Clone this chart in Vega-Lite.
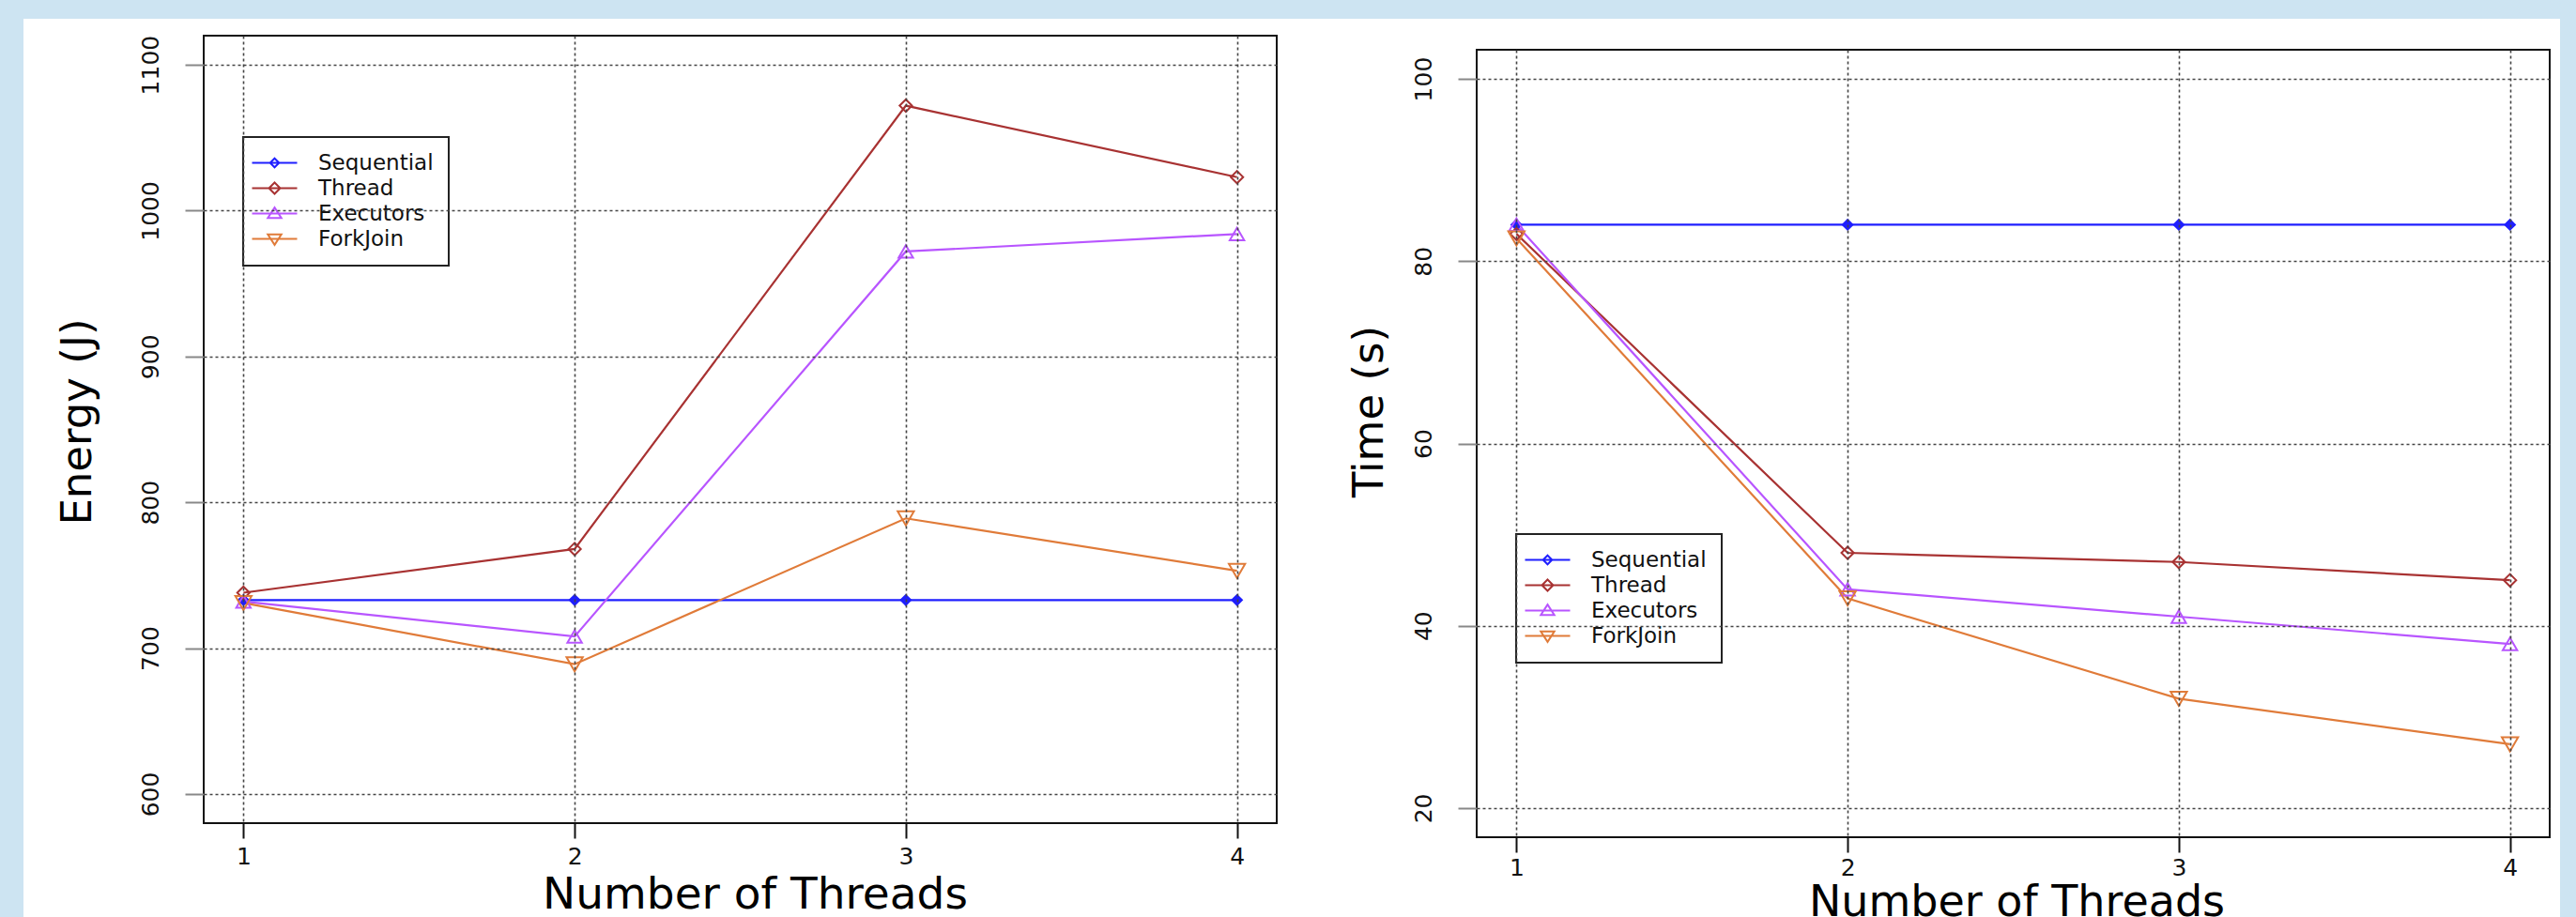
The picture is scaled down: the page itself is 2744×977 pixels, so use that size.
{
  "$schema": "https://vega.github.io/schema/vega-lite/v6.json",
  "background": "#cde4f2",
  "padding": {"left": 25, "top": 20, "right": 17, "bottom": 0},
  "spacing": 213,
  "bounds": "flush",
  "datasets": {
    "energy": [
      {"threads": 1, "series": "Sequential", "value": 733},
      {"threads": 2, "series": "Sequential", "value": 733},
      {"threads": 3, "series": "Sequential", "value": 733},
      {"threads": 4, "series": "Sequential", "value": 733},
      {"threads": 1, "series": "Thread", "value": 738},
      {"threads": 2, "series": "Thread", "value": 768},
      {"threads": 3, "series": "Thread", "value": 1072},
      {"threads": 4, "series": "Thread", "value": 1023},
      {"threads": 1, "series": "Executors", "value": 732},
      {"threads": 2, "series": "Executors", "value": 708},
      {"threads": 3, "series": "Executors", "value": 972},
      {"threads": 4, "series": "Executors", "value": 984},
      {"threads": 1, "series": "ForkJoin", "value": 731},
      {"threads": 2, "series": "ForkJoin", "value": 689},
      {"threads": 3, "series": "ForkJoin", "value": 789},
      {"threads": 4, "series": "ForkJoin", "value": 753}
    ],
    "time": [
      {"threads": 1, "series": "Sequential", "value": 84},
      {"threads": 2, "series": "Sequential", "value": 84},
      {"threads": 3, "series": "Sequential", "value": 84},
      {"threads": 4, "series": "Sequential", "value": 84},
      {"threads": 1, "series": "Thread", "value": 83},
      {"threads": 2, "series": "Thread", "value": 48},
      {"threads": 3, "series": "Thread", "value": 47},
      {"threads": 4, "series": "Thread", "value": 45},
      {"threads": 1, "series": "Executors", "value": 84},
      {"threads": 2, "series": "Executors", "value": 44},
      {"threads": 3, "series": "Executors", "value": 41},
      {"threads": 4, "series": "Executors", "value": 38},
      {"threads": 1, "series": "ForkJoin", "value": 82.5},
      {"threads": 2, "series": "ForkJoin", "value": 43},
      {"threads": 3, "series": "ForkJoin", "value": 32},
      {"threads": 4, "series": "ForkJoin", "value": 27}
    ]
  },
  "hconcat": [
    {
      "width": 1143,
      "height": 839,
      "data": {"name": "energy"},
      "layer": [
        {
          "data": {"values": [{}]},
          "mark": {"type": "rect", "fill": "white"},
          "encoding": {
            "x": {"datum": 0.33575, "type": "quantitative", "scale": {"domain": [0.88, 4.12], "nice": false, "zero": false}},
            "x2": {"datum": 4.42047},
            "y": {"datum": 1131.585, "type": "quantitative", "scale": {"domain": [580, 1120], "nice": false, "zero": false}},
            "y2": {"datum": 515.638}
          }
        },
        {
          "mark": {"type": "line", "strokeWidth": 2.2},
          "encoding": {
            "x": {
              "field": "threads", "type": "quantitative",
              "scale": {"domain": [0.88, 4.12], "nice": false, "zero": false},
              "axis": {
                "zindex": 1,
                "title": "Number of Threads", "values": [1, 1.5, 2, 2.5, 3, 3.5, 4], "format": "d",
                "labelExpr": "datum.value % 1 == 0 ? datum.label : ''",
                "tickSize": 16,
                "tickColor": {"condition": {"test": "datum.value % 1 != 0", "value": "transparent"}, "value": "#111"},
                "labelFontSize": 25, "labelPadding": 7,
                "titleFontSize": 47, "titleX": 587, "titleY": 90, "titleBaseline": "alphabetic", "titleAlign": "center",
                "grid": true
              }
            },
            "y": {
              "field": "value", "type": "quantitative",
              "scale": {"domain": [580, 1120], "nice": false, "zero": false},
              "axis": {
                "zindex": 1,
                "title": "Energy (J)", "values": [600, 700, 800, 900, 1000, 1100], "format": "d",
                "tickSize": 20, "labelAngle": -90, "labelAlign": "center", "labelBaseline": "bottom",
                "labelPadding": 24, "labelFontSize": 25,
                "titleFontSize": 45, "titleAngle": -90, "titleX": -121, "titleY": 411, "titleBaseline": "alphabetic", "titleAlign": "center",
                "grid": true
              }
            },
            "stroke": {"field": "series", "type": "nominal", "scale": {"domain": ["Sequential", "Thread", "Executors", "ForkJoin"], "range": ["#1f1fff", "#a83232", "#b855ff", "#e07b39"]}, "legend": null}
          }
        },
        {
          "mark": {"type": "point", "opacity": 1, "strokeWidth": 2},
          "encoding": {
            "x": {"field": "threads", "type": "quantitative", "scale": {"domain": [0.88, 4.12], "nice": false, "zero": false}},
            "y": {"field": "value", "type": "quantitative", "scale": {"domain": [580, 1120], "nice": false, "zero": false}},
            "stroke": {"field": "series", "type": "nominal", "scale": {"domain": ["Sequential", "Thread", "Executors", "ForkJoin"], "range": ["#1f1fff", "#a83232", "#b855ff", "#e07b39"]}, "legend": null},
            "fill": {"field": "series", "type": "nominal", "scale": {"domain": ["Sequential", "Thread", "Executors", "ForkJoin"], "range": ["#1f1fff", "transparent", "transparent", "transparent"]}, "legend": null},
            "shape": {"field": "series", "type": "nominal", "scale": {"domain": ["Sequential", "Thread", "Executors", "ForkJoin"], "range": ["diamond", "diamond", "triangle-up", "triangle-down"]}, "legend": null},
            "size": {"field": "series", "type": "nominal", "scale": {"domain": ["Sequential", "Thread", "Executors", "ForkJoin"], "range": [110, 300, 300, 300]}, "legend": null}
          }
        },
        {
          "mark": {"type": "point", "opacity": 0, "strokeWidth": 2},
          "encoding": {
            "x": {"field": "threads", "type": "quantitative", "scale": {"domain": [0.88, 4.12], "nice": false, "zero": false}},
            "y": {"field": "value", "type": "quantitative", "scale": {"domain": [580, 1120], "nice": false, "zero": false}},
            "stroke": {
              "field": "series", "type": "nominal",
              "scale": {"domain": ["Sequential", "Thread", "Executors", "ForkJoin"], "range": ["#1f1fff", "#a83232", "#b855ff", "#e07b39"]},
              "legend": {"title": null, "orient": "none", "legendX": 42, "legendY": 108}
            },
            "fill": {"field": "series", "type": "nominal", "scale": {"domain": ["Sequential", "Thread", "Executors", "ForkJoin"], "range": ["#1f1fff", "transparent", "transparent", "transparent"]}},
            "shape": {
              "field": "series", "type": "nominal",
              "scale": {"domain": ["Sequential", "Thread", "Executors", "ForkJoin"], "range": [
                "M-3,0H3M0,-0.6L0.6,0L0,0.6L-0.6,0Z",
                "M-3,0H3M0,-0.75L0.75,0L0,0.75L-0.75,0Z",
                "M-3,0H3M0,-0.8L0.9,0.6L-0.9,0.6Z",
                "M-3,0H3M0,0.8L0.9,-0.6L-0.9,-0.6Z"
              ]}
            }
          }
        },
        {
          "data": {"values": [{}]},
          "mark": {"type": "rect", "fill": "transparent", "stroke": "#111", "strokeWidth": 2},
          "encoding": {
            "x": {"datum": 0.88, "type": "quantitative", "scale": {"domain": [0.88, 4.12], "nice": false, "zero": false}},
            "x2": {"datum": 4.12},
            "y": {"datum": 580, "type": "quantitative", "scale": {"domain": [580, 1120], "nice": false, "zero": false}},
            "y2": {"datum": 1120}
          }
        }
      ],
      "resolve": {"scale": {"stroke": "independent", "fill": "independent", "shape": "independent", "size": "independent"}}
    },
    {
      "spacing": 14,
      "bounds": "flush",
      "vconcat": [
        {
          "width": 1143,
          "height": 1,
          "data": {"values": []},
          "mark": {"type": "point"},
          "encoding": {}
        },
        {
          "width": 1143,
          "height": 839,
          "data": {"name": "time"},
          "layer": [
            {
              "data": {"values": [{}]},
              "mark": {"type": "rect", "fill": "white"},
              "encoding": {
                "x": {"datum": 0.57669, "type": "quantitative", "scale": {"domain": [0.88, 4.12], "nice": false, "zero": false}},
                "x2": {"datum": 4.15118},
                "y": {"datum": 106.59833, "type": "quantitative", "scale": {"domain": [16.8, 103.2], "nice": false, "zero": false}},
                "y2": {"datum": 8.04671}
              }
            },
            {
              "mark": {"type": "line", "strokeWidth": 2.2},
              "encoding": {
                "x": {
                  "field": "threads", "type": "quantitative",
                  "scale": {"domain": [0.88, 4.12], "nice": false, "zero": false},
                  "axis": {
                    "zindex": 1,
                    "title": "Number of Threads", "values": [1, 1.5, 2, 2.5, 3, 3.5, 4], "format": "d",
                    "labelExpr": "datum.value % 1 == 0 ? datum.label : ''",
                    "tickSize": 16,
                    "tickColor": {"condition": {"test": "datum.value % 1 != 0", "value": "transparent"}, "value": "#111"},
                    "labelFontSize": 25, "labelPadding": 4,
                    "titleFontSize": 46, "titleX": 575, "titleY": 83, "titleBaseline": "alphabetic", "titleAlign": "center",
                    "grid": true
                  }
                },
                "y": {
                  "field": "value", "type": "quantitative",
                  "scale": {"domain": [16.8, 103.2], "nice": false, "zero": false},
                  "axis": {
                    "zindex": 1,
                    "title": "Time (s)", "values": [20, 40, 60, 80, 100], "format": "d",
                    "tickSize": 20, "labelAngle": -90, "labelAlign": "center", "labelBaseline": "bottom",
                    "labelPadding": 24, "labelFontSize": 25,
                    "titleFontSize": 45, "titleAngle": -90, "titleX": -101, "titleY": 385, "titleBaseline": "alphabetic", "titleAlign": "center",
                    "grid": true
                  }
                },
                "stroke": {"field": "series", "type": "nominal", "scale": {"domain": ["Sequential", "Thread", "Executors", "ForkJoin"], "range": ["#1f1fff", "#a83232", "#b855ff", "#e07b39"]}, "legend": null}
              }
            },
            {
              "mark": {"type": "point", "opacity": 1, "strokeWidth": 2},
              "encoding": {
                "x": {"field": "threads", "type": "quantitative", "scale": {"domain": [0.88, 4.12], "nice": false, "zero": false}},
                "y": {"field": "value", "type": "quantitative", "scale": {"domain": [16.8, 103.2], "nice": false, "zero": false}},
                "stroke": {"field": "series", "type": "nominal", "scale": {"domain": ["Sequential", "Thread", "Executors", "ForkJoin"], "range": ["#1f1fff", "#a83232", "#b855ff", "#e07b39"]}, "legend": null},
                "fill": {"field": "series", "type": "nominal", "scale": {"domain": ["Sequential", "Thread", "Executors", "ForkJoin"], "range": ["#1f1fff", "transparent", "transparent", "transparent"]}, "legend": null},
                "shape": {"field": "series", "type": "nominal", "scale": {"domain": ["Sequential", "Thread", "Executors", "ForkJoin"], "range": ["diamond", "diamond", "triangle-up", "triangle-down"]}, "legend": null},
                "size": {"field": "series", "type": "nominal", "scale": {"domain": ["Sequential", "Thread", "Executors", "ForkJoin"], "range": [110, 300, 300, 300]}, "legend": null}
              }
            },
            {
              "mark": {"type": "point", "opacity": 0, "strokeWidth": 2},
              "encoding": {
                "x": {"field": "threads", "type": "quantitative", "scale": {"domain": [0.88, 4.12], "nice": false, "zero": false}},
                "y": {"field": "value", "type": "quantitative", "scale": {"domain": [16.8, 103.2], "nice": false, "zero": false}},
                "stroke": {
                  "field": "series", "type": "nominal",
                  "scale": {"domain": ["Sequential", "Thread", "Executors", "ForkJoin"], "range": ["#1f1fff", "#a83232", "#b855ff", "#e07b39"]},
                  "legend": {"title": null, "orient": "none", "legendX": 42, "legendY": 516}
                },
                "fill": {"field": "series", "type": "nominal", "scale": {"domain": ["Sequential", "Thread", "Executors", "ForkJoin"], "range": ["#1f1fff", "transparent", "transparent", "transparent"]}},
                "shape": {
                  "field": "series", "type": "nominal",
                  "scale": {"domain": ["Sequential", "Thread", "Executors", "ForkJoin"], "range": [
                    "M-3,0H3M0,-0.6L0.6,0L0,0.6L-0.6,0Z",
                    "M-3,0H3M0,-0.75L0.75,0L0,0.75L-0.75,0Z",
                    "M-3,0H3M0,-0.8L0.9,0.6L-0.9,0.6Z",
                    "M-3,0H3M0,0.8L0.9,-0.6L-0.9,-0.6Z"
                  ]}
                }
              }
            },
            {
              "data": {"values": [{}]},
              "mark": {"type": "rect", "fill": "transparent", "stroke": "#111", "strokeWidth": 2},
              "encoding": {
                "x": {"datum": 0.88, "type": "quantitative", "scale": {"domain": [0.88, 4.12], "nice": false, "zero": false}},
                "x2": {"datum": 4.12},
                "y": {"datum": 16.8, "type": "quantitative", "scale": {"domain": [16.8, 103.2], "nice": false, "zero": false}},
                "y2": {"datum": 103.2}
              }
            }
          ],
          "resolve": {"scale": {"stroke": "independent", "fill": "independent", "shape": "independent", "size": "independent"}}
        }
      ]
    }
  ],
  "config": {
    "view": {"stroke": null},
    "axis": {
      "domain": false,
      "gridColor": "#444", "gridDash": [3, 3], "gridWidth": 1.6, "gridOpacity": 1,
      "tickWidth": 2, "labelFont": "DejaVu Sans", "labelColor": "#111",
      "titleFont": "DejaVu Sans", "titleColor": "#000", "titleFontWeight": "normal",
      "labelFlush": false, "labelOverlap": false
    },
    "legend": {
      "labelFont": "DejaVu Sans", "labelFontSize": 23, "labelColor": "#111",
      "rowPadding": 3, "padding": 16, "fillColor": "white", "strokeColor": "#222", "strokeWidth": 2,
      "symbolSize": 256, "symbolStrokeWidth": 2, "symbolOffset": 6, "labelOffset": 35
    }
  }
}
